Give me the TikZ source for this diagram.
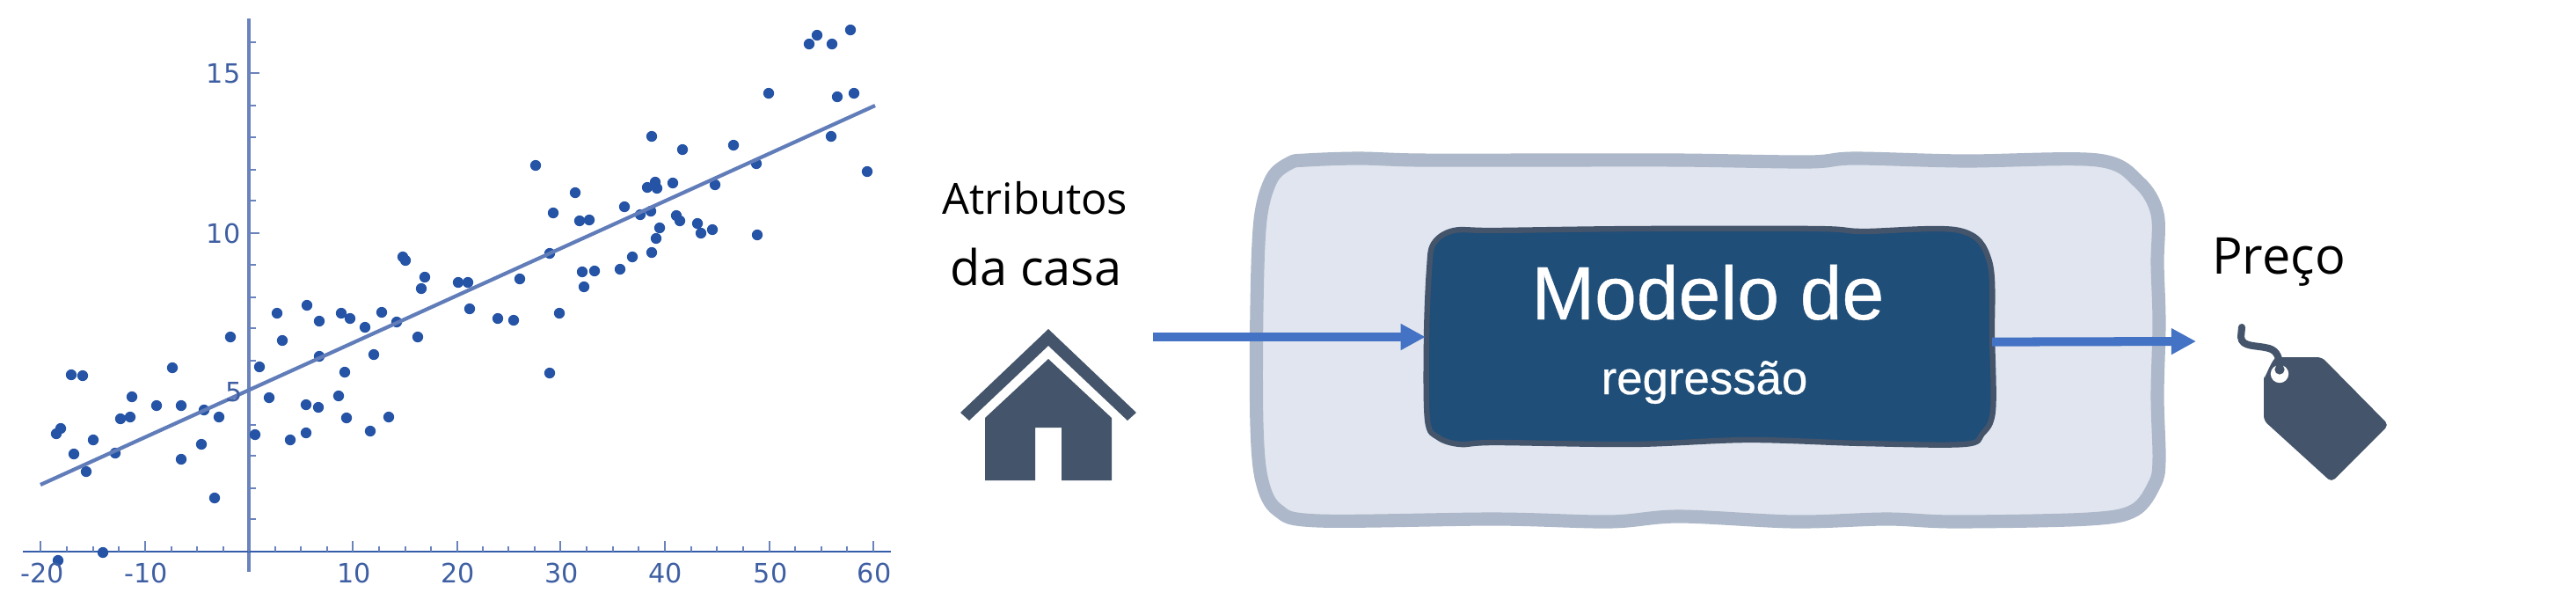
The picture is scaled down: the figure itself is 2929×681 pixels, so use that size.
\documentclass[tikz,border=0pt]{standalone}
\usepackage{fontspec}
\usepackage{tikz}
\usetikzlibrary{calc,positioning,arrows.meta}
\newfontfamily\plotfont{DejaVu Sans}
\newfontfamily\labelfont{Open Sans}
\newfontfamily\boxfont[FakeBold=0.5]{Liberation Sans}
\definecolor{dotblue}{HTML}{2553A5}
\definecolor{axisblue}{HTML}{6A83BC}
\definecolor{ticktext}{HTML}{3F5FA3}
\definecolor{slate}{HTML}{44546A}
\definecolor{outerfill}{HTML}{E1E5EF}
\definecolor{outerline}{HTML}{ADB9CA}
\definecolor{innerfill}{HTML}{1F4E79}
\definecolor{flowblue}{HTML}{4472C4}

\begin{document}
\begin{tikzpicture}[x=0.01cm, y=-0.01cm,
        ticklabel/.style={inner sep=0, text=ticktext, font=\plotfont\fontsize{8.6}{9}\selectfont},
        caption/.style={inner sep=0, anchor=base, text=black},
        boxlabel/.style={inner sep=0, anchor=base, text=white},
        axisline/.style={draw=axisblue, line width=1pt},
        thintick/.style={draw=axisblue, line width=0.5pt},
        flow/.style={draw=flowblue, line width=2.85pt, -{Triangle[length=8pt, width=8pt]}},
    ]
    \useasboundingbox (0,0) rectangle (2929,681);

    % scatter plot
    \draw[axisline] (283,21) -- (283,650);
    \draw[draw=dotblue!80!axisblue, line width=0.7pt] (26,627) -- (1013,627);
    \foreach \ty in {48,120,156,193,228,301,338,373,410,483,518,555,590}
        \draw[thintick] (283,\ty) -- (291,\ty);
    \foreach \ty in {83,265}
        \draw[thintick, line width=0.7pt] (283,\ty) -- (295,\ty);
    \foreach \tx in {46,165,283,401,520,637,756,875,993}
        \draw[thintick, line width=0.7pt] (\tx,627) -- (\tx,615);
    \foreach \tx in {76,106,135,195,224,254,313,342,372,431,461,490,549,578,608,667,697,726,786,815,845,904,934,963}
        \draw[thintick] (\tx,627) -- (\tx,621);
    \foreach \px/\py in {458/292,461/296,483/315,479/328,521/321,532/321,
        315/356,349/347,363/365,388/356,398/362,415/372,434/355,534/351,451/366,475/383,
        262/383,321/387,295/417,363/405,425/403,392/423,196/418,81/426,94/427,150/451,
        306/452,385/450,348/460,362/463,178/461,206/461,232/466,249/474,148/474,137/476,
        394/475,442/474,69/487,64/493,290/494,348/492,421/490,330/500,106/500,229/505,
        84/516,131/515,206/522,98/536,244/566,117/628,66/637,
        967/34,929/40,920/50,946/50,874/106,971/106,952/110,741/155,945/155,776/170,
        834/165,609/188,860/186,986/195,745/207,736/213,747/214,765/208,813/210,654/219,
        710/235,629/242,728/244,740/240,769/245,773/251,659/251,670/250,793/254,810/261,
        797/265,861/267,750/259,746/271,625/288,741/287,719/292,705/306,662/309,676/308,
        591/317,664/326,566/362,584/364,636/356,625/424}
        \fill[dotblue] (\px,\py) circle (1.75pt);
    \draw[draw=axisblue!85!dotblue, line width=1.2pt] (46,551) -- (995,120);

    \node[ticklabel, anchor=east] (ylabel15) at (274,84) {15};
    \node[ticklabel, anchor=east] (ylabel10) at (274,265) {10};
    \node[ticklabel] (ylabel5) at (266,446) {5};
    \foreach \tx/\lx/\txt in {48/m20/-20,166/m10/-10,403/p10/10,521/p20/20,639/p30/30,757/p40/40,876/p50/50,994/p60/60}
        \node[ticklabel] (xlabel\lx) at (\tx,651) {\txt};

    % input side
    \node[caption, font=\labelfont\fontsize{13.9}{14}\selectfont] (atributos) at (1177,243) {Atributos};
    \node[caption, font=\labelfont\fontsize{15.9}{16}\selectfont] (dacasa) at (1178,324) {da casa};
    \fill[slate] (1192,374) -- (1292,469) -- (1282,478) -- (1192,393) -- (1102,478) -- (1092,469) -- cycle;
    \fill[slate] (1192,408) -- (1264,475) -- (1264,546) -- (1207,546) -- (1207,486) -- (1177,486)
        -- (1177,546) -- (1120,546) -- (1120,475) -- cycle;

    % wobbly boxes
    \draw[draw=outerline, fill=outerfill, line width=4.3pt] plot[smooth cycle, tension=0.55] coordinates {
        (1485,182) (1545,180) (1614,182) (1760,182) (1909,182) (2056,184) (2108,180) (2233,183) (2385,182)
        (2432,207) (2453,243) (2453,300) (2455,367) (2453,450) (2455,523) (2450,550) (2427,580) (2375,590)
        (2223,593) (2145,590) (2040,593) (1909,587) (1830,593) (1700,590) (1499,592) (1453,580) (1435,547)
        (1429,483) (1429,350) (1433,250) (1446,203) (1467,185)};
    \draw[draw=slate, fill=innerfill, line width=1.8pt] plot[smooth cycle, tension=0.55] coordinates {
        (1653,262) (1700,262) (1857,260) (2066,260) (2118,263) (2228,262) (2262,297) (2265,383) (2266,467)
        (2254,493) (2233,505) (2118,504) (1988,500) (1857,505) (1700,503) (1660,505) (1635,497) (1623,477)
        (1622,383) (1625,307) (1630,277)};
    \node[minimum width=6.44cm, minimum height=2.46cm, inner sep=0, outer sep=0] (modelo) at (1943,383) {};
    \node[boxlabel, font=\boxfont\fontsize{24.4}{25}\selectfont] (modelotxt) at (1942,363) {Modelo de};
    \node[boxlabel, font=\boxfont\fontsize{15}{16}\selectfont] (regressao) at (1938,448) {regressão};

    % connectors
    \coordinate (entrada) at (1311,383);
    \coordinate (saida) at (2497,388);
    \draw[flow] (entrada) -- (modelo.west);
    \draw[flow] (modelo.359.5) -- (saida);

    % output side
    \node[caption, font=\labelfont\fontsize{16.4}{17}\selectfont] (preco) at (2591,311) {Preço};
    \fill[slate, rounded corners=1.5pt] (2574,478) -- (2574,424) to[out=-90, in=180] (2594,406) -- (2640,406)
        -- (2716,483) -- (2651,548) -- cycle;
    \fill[white] (2592,425) circle (2.9pt);
    \fill[slate] (2592,420) circle (1.6pt);
    \draw[slate, line width=2.3pt, line cap=round] (2549,372) -- (2548,383) .. controls (2549,395) and (2565,392) .. (2580,396)
        .. controls (2590,399) and (2592,408) .. (2592,418);
\end{tikzpicture}
\end{document}
